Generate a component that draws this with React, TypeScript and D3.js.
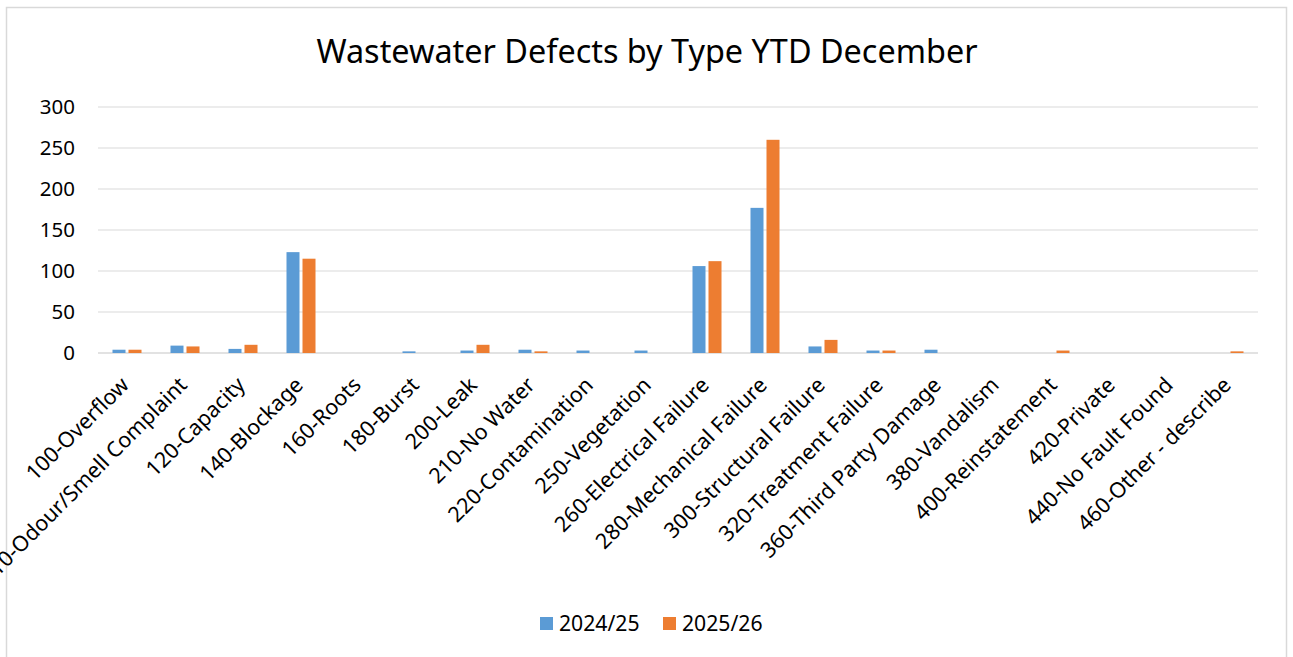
import React from "react";
import * as d3 from "d3";

const categories = [
  "100-Overflow",
  "110-Odour/Smell Complaint",
  "120-Capacity",
  "140-Blockage",
  "160-Roots",
  "180-Burst",
  "200-Leak",
  "210-No Water",
  "220-Contamination",
  "250-Vegetation",
  "260-Electrical Failure",
  "280-Mechanical Failure",
  "300-Structural Failure",
  "320-Treatment Failure",
  "360-Third Party Damage",
  "380-Vandalism",
  "400-Reinstatement",
  "420-Private",
  "440-No Fault Found",
  "460-Other - describe",
];
const values2425 = [4, 9, 5, 123, 0, 2, 3, 4, 3, 3, 106, 177, 8, 3, 4, 0, 0, 0, 0, 0];
const values2526 = [4, 8, 10, 115, 0, 0, 10, 2, 0, 0, 112, 260, 16, 3, 0, 0, 3, 0, 0, 2];
const seriesNames = ["2024/25", "2025/26"];
const seriesColors = ["#5B9BD5", "#ED7D31"];
const yTicks = [0, 50, 100, 150, 200, 250, 300];
const title = "Wastewater Defects by Type YTD December";

const W = 1293;
const H = 657;
const FONT = "'Noto Sans', sans-serif";

export default function App() {
  const x = d3.scaleBand<string>().domain(categories).range([98, 1258]).padding(0);
  const inner = d3
    .scaleBand<string>()
    .domain(seriesNames)
    .range([0, x.bandwidth()])
    .paddingInner(0.1875)
    .paddingOuter(0.906);
  const y = d3.scaleLinear().domain([0, 300]).range([353, 107]);
  const series = [values2425, values2526];

  return (
    <div style={{ position: "absolute", left: 0, top: 0, width: W, height: H, background: "#fff", overflow: "hidden" }}>
      <svg width={W} height={H} style={{ display: "block" }} fontFamily={FONT}>
        <rect x={6.5} y={7.5} width={1280} height={700} fill="#fff" stroke="#d9d9d9" strokeWidth={1.5} />
        <text x={647} y={63} textAnchor="middle" fontSize={32.4} fill="#000">
          {title}
        </text>
        {yTicks.map((t) => (
          <g key={t}>
            <line x1={98} x2={1258} y1={y(t)} y2={y(t)} stroke="#d9d9d9" strokeWidth={t === 0 ? 1.5 : 1} />
            <text x={75} y={y(t)} dy="0.35em" textAnchor="end" fontSize={20.5} fill="#000">
              {t}
            </text>
          </g>
        ))}
        {categories.map((c, i) => (
          <g key={c} transform={`translate(${x(c)},0)`}>
            {series.map((vals, s) =>
              vals[i] > 0 ? (
                <rect
                  key={s}
                  x={inner(seriesNames[s])}
                  width={inner.bandwidth()}
                  y={y(vals[i])}
                  height={y(0) - y(vals[i])}
                  fill={seriesColors[s]}
                />
              ) : null
            )}
          </g>
        ))}
        {categories.map((c) => {
          const cx = (x(c) as number) + x.bandwidth() / 2 - 2;
          const cy = 381;
          return (
            <text
              key={c}
              transform={`translate(${cx},${cy}) rotate(-45)`}
              textAnchor="end"
              dy="0.35em"
              fontSize={21.5}
              fill="#000"
            >
              {c}
            </text>
          );
        })}
        {seriesNames.map((n, i) => {
          const lx = i === 0 ? 540 : 663;
          return (
            <g key={n}>
              <rect x={lx} y={617} width={13} height={13} fill={seriesColors[i]} />
              <text x={lx + 19} y={623.5} dy="0.35em" fontSize={21.2} fill="#000">
                {n}
              </text>
            </g>
          );
        })}
      </svg>
    </div>
  );
}
